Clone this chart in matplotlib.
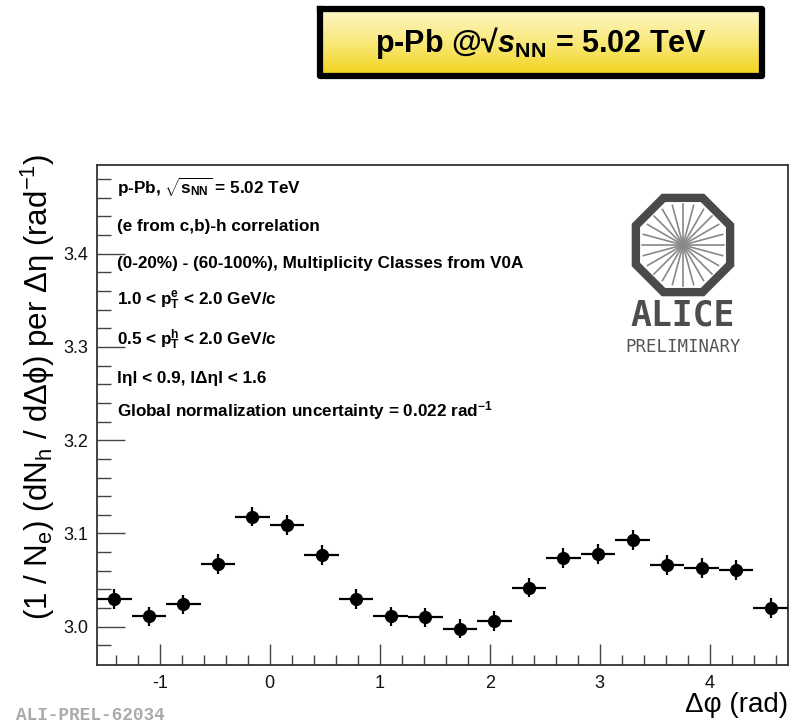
import numpy as np
import matplotlib
matplotlib.use("Agg")
import matplotlib.pyplot as plt
from matplotlib.patches import RegularPolygon
from matplotlib.colors import LinearSegmentedColormap

plt.rcParams['font.family'] = ['Liberation Sans', 'DejaVu Sans']
plt.rcParams['mathtext.default'] = 'regular'
plt.rcParams['mathtext.fontset'] = 'custom'
plt.rcParams['mathtext.rm'] = 'Liberation Sans'
plt.rcParams['mathtext.it'] = 'Liberation Sans:italic:bold'
plt.rcParams['mathtext.bf'] = 'Liberation Sans:bold'
plt.rcParams['axes.unicode_minus'] = False

# 20 bins in delta phi from -pi/2 to 3pi/2
nbins = 20
dphi = -np.pi / 2 + (np.arange(nbins) + 0.5) * 2 * np.pi / nbins
half_width = np.pi / nbins
yields = [3.030, 3.011, 3.024, 3.067, 3.118, 3.109, 3.077, 3.030, 3.011, 3.010,
          2.998, 3.006, 3.042, 3.074, 3.078, 3.093, 3.066, 3.063, 3.061, 3.020]
stat_err = [0.0105] * nbins

info_lines = [r'p-Pb, $\sqrt{s_{NN}}$ = 5.02 TeV',
              '(e from c,b)-h correlation',
              '(0-20%) - (60-100%), Multiplicity Classes from V0A',
              r'1.0 < p$_{T}^{e}$ < 2.0 GeV/c',
              r'0.5 < p$_{T}^{h}$ < 2.0 GeV/c',
              'l\u03b7l < 0.9, l\u0394\u03b7l < 1.6',
              r'Global normalization uncertainty = 0.022 rad$^{-1}$']

W, H = 799, 724
fig = plt.figure(figsize=(W / 100, H / 100), dpi=100)
ax = fig.add_axes([97 / W, 1 - 665 / H, 691 / W, 500 / H])

ax.errorbar(dphi, yields, xerr=half_width, yerr=stat_err, fmt='o', color='black',
            markersize=8.5, elinewidth=1.6, capsize=0, zorder=3)

ax.set_xlim(-np.pi / 2, 3 * np.pi / 2)
ax.set_ylim(2.959, 3.495)
ax.set_xticks([-1, 0, 1, 2, 3, 4])
ax.set_xticks(np.arange(-1.4, 4.75, 0.2), minor=True)
ax.set_yticks([3.0, 3.1, 3.2, 3.3, 3.4])
ax.set_yticks(np.arange(2.98, 3.49, 0.02), minor=True)
ax.set_yticklabels(['3.0', '3.1', '3.2', '3.3', '3.4'])
ax.tick_params(axis='y', which='major', direction='in', length=20, width=1, pad=6,
               labelsize=13, colors='#444444', labelcolor='#111111')
ax.tick_params(axis='y', which='minor', direction='in', length=10, width=1,
               colors='#444444')
ax.tick_params(axis='x', which='major', direction='in', length=15, width=1, pad=7,
               labelsize=13, colors='#444444', labelcolor='#111111')
ax.tick_params(axis='x', which='minor', direction='in', length=7, width=1,
               colors='#444444')
for s in ax.spines.values():
    s.set_linewidth(1.3)
    s.set_color('#333333')

ax.set_xlabel('\u0394\u03c6 (rad)', fontsize=20, loc='right')
ax.xaxis.set_label_coords(1.0, -0.055)
ax.set_ylabel(r'(1 / N$_{e}$) (dN$_{h}$ / d$\Delta\phi$) per $\Delta\eta$ (rad$^{-1}$)',
              fontsize=22.5)
ax.yaxis.set_label_coords(-0.058, 0.556)

ys = [187, 226, 264, 301, 340, 378, 411]
for txt, yp in zip(info_lines, ys):
    fig.text(117 / W, 1 - yp / H, txt, fontsize=12.3, fontweight='bold', va='center')

# overlay in pixel coordinates for decorations
ov = fig.add_axes([0, 0, 1, 1], zorder=5)
ov.patch.set_alpha(0)

# yellow header box with gradient
grad = np.linspace(0, 1, 100).reshape(-1, 1)
cm = LinearSegmentedColormap.from_list('yel', ['#fdf6c8', '#f9e97a', '#f2d21a'])
ov.imshow(grad, cmap=cm, extent=[320, 762, 76, 9], aspect='auto', zorder=1)
ov.plot([320, 762, 762, 320, 320], [9, 9, 76, 76, 9], color='black', lw=4.5, zorder=2)
ov.text(541, 43, 'p-Pb @\u221a$\\mathit{s}$$_{NN}$ = 5.02 TeV', fontsize=22,
        fontweight='bold', ha='center', va='center', zorder=3)

# ALICE logo
cx, cy = 683, 245
ov.add_patch(RegularPolygon((cx, cy), 8, radius=51, orientation=np.pi / 8,
                            facecolor='none', edgecolor='#4a4a4a', lw=6))
for a in np.arange(0, np.pi, np.pi / 12):
    ov.plot([cx - 41 * np.cos(a), cx + 41 * np.cos(a)],
            [cy - 41 * np.sin(a), cy + 41 * np.sin(a)], color='#888888', lw=1.2)
ov.text(cx, 315, 'ALICE', fontsize=25, color='#4d4d4d', ha='center', va='center',
        family='DejaVu Sans Mono', fontweight='bold')
ov.text(cx, 347, 'PRELIMINARY', fontsize=12.5, color='#555555', ha='center',
        va='center', family='DejaVu Sans Mono')

ov.text(16, 716, 'ALI-PREL-62034', fontsize=12.8, color='#aaaaaa', fontweight='bold',
        family='Liberation Mono', va='center', ha='left')

ov.set_xlim(0, W)
ov.set_ylim(H, 0)
ov.axis('off')

fig.savefig('out.png', dpi=100)
